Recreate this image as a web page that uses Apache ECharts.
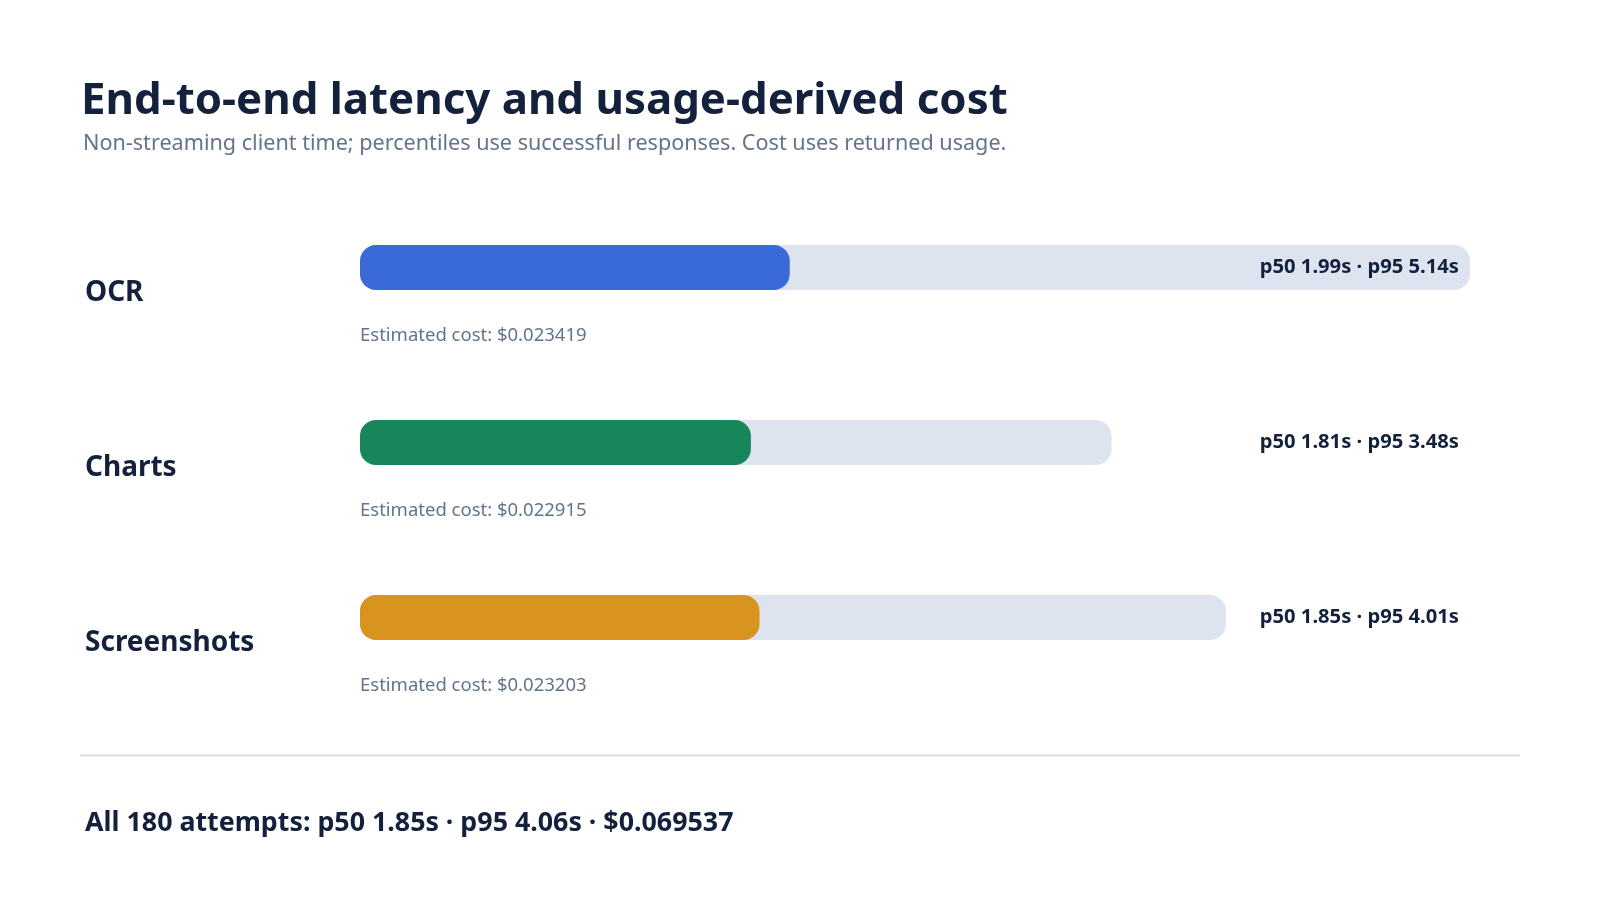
<!DOCTYPE html>
<html>
<head>
<meta charset="utf-8">
<script src="https://cdn.jsdelivr.net/npm/echarts@6/dist/echarts.min.js"></script>
<style>
  html, body { margin: 0; padding: 0; background: #fff; }
  #chart { width: 1600px; height: 900px; }
</style>
</head>
<body>
<div id="chart"></div>
<script>
  // values
  const groups = ['OCR', 'Charts', 'Screenshots'];
  const p50 = [1.99, 1.81, 1.85];
  const p95 = [5.14, 3.48, 4.01];
  const costs = ['0.023419', '0.022915', '0.023203'];
  const colors = ['#3a69d8', '#17875b', '#d9941f'];
  const totalText = 'All 180 attempts: p50 1.85s · p95 4.06s · $0.069537';

  const axisMax = Math.max(...p95);
  const font = '"Noto Sans", "Open Sans", sans-serif';
  const ink = '#14213d';
  const muted = '#64748b';

  const chart = echarts.init(document.getElementById('chart'));

  chart.setOption({
    backgroundColor: '#ffffff',
    textStyle: { fontFamily: font },
    animation: false,
    title: [
      {
        text: 'End-to-end latency and usage-derived cost',
        left: 76, top: 68,
        textStyle: { fontFamily: font, fontSize: 43.8, fontWeight: 700, color: ink, lineHeight: 58 }
      },
      {
        text: 'Non-streaming client time; percentiles use successful responses. Cost uses returned usage.',
        left: 78, top: 126,
        textStyle: { fontFamily: font, fontSize: 21.6, fontWeight: 400, color: muted, lineHeight: 26 }
      },
      {
        text: totalText,
        left: 80, top: 803,
        textStyle: { fontFamily: font, fontSize: 26.8, fontWeight: 700, color: ink, lineHeight: 30 }
      }
    ],
    graphic: [
      {
        type: 'line',
        shape: { x1: 80, y1: 755.5, x2: 1520, y2: 755.5 },
        style: { stroke: '#d5dce6', lineWidth: 2 }
      }
    ],
    grid: { left: 360, right: 130, top: 180, height: 525 },
    xAxis: {
      type: 'value', min: 0, max: axisMax,
      show: false
    },
    yAxis: {
      type: 'category', data: groups, inverse: true,
      axisLine: { show: false }, axisTick: { show: false },
      axisLabel: {
        margin: 275, align: 'left', verticalAlign: 'middle',
        formatter: (v) => '{n|' + v + '}',
        rich: {
          n: {
            padding: [52, 0, 0, 0],
            fontFamily: font, fontSize: 28, fontWeight: 700, color: ink
          }
        }
      }
    },
    series: [
      {
        // p95 track
        type: 'bar', barWidth: 45, barGap: '-100%', silent: true, z: 1,
        data: p95,
        itemStyle: { color: '#dde4ef', borderRadius: 16 }
      },
      {
        // p50 fill, cost label underneath
        type: 'bar', barWidth: 45, barGap: '-100%', silent: true, z: 2,
        data: p50.map((v, i) => ({ value: v, itemStyle: { color: colors[i] } })),
        itemStyle: { borderRadius: 16 },
        label: {
          show: true, position: [0, 91], align: 'left', verticalAlign: 'middle',
          fontFamily: font, fontSize: 18.5, color: muted,
          formatter: (p) => 'Estimated cost: $' + costs[p.dataIndex]
        }
      },
      {
        // invisible full-width bar carrying the percentile text at the right edge
        type: 'bar', barWidth: 45, barGap: '-100%', silent: true, z: 3,
        data: groups.map(() => axisMax),
        itemStyle: { color: 'rgba(0,0,0,0)' },
        label: {
          show: true, position: 'insideRight', distance: 11,
          fontFamily: font, fontSize: 20.2, fontWeight: 700, color: ink,
          formatter: (p) => 'p50 ' + p50[p.dataIndex].toFixed(2) + 's · p95 ' + p95[p.dataIndex].toFixed(2) + 's'
        }
      }
    ]
  });
</script>
</body>
</html>
